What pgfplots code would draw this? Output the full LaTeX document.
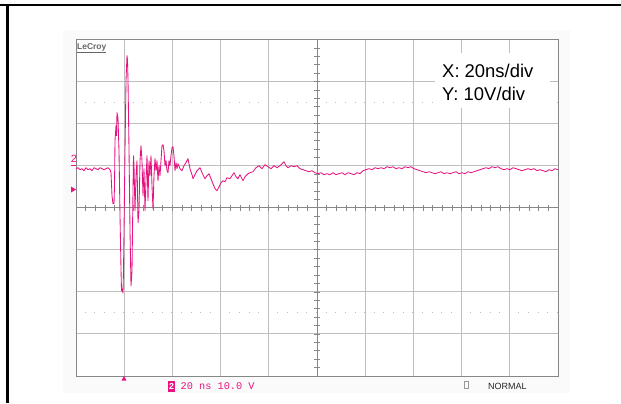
\documentclass[border=0pt]{standalone}
\usepackage{pgfplots}
\pgfplotsset{compat=1.18}
\usepackage{fontspec}
\setmainfont{Liberation Sans}
\setmonofont{Liberation Mono}
\definecolor{trace}{RGB}{230,20,128}
\definecolor{gridc}{RGB}{190,190,190}
\definecolor{boxc}{RGB}{135,135,135}
\begin{document}
\begin{tikzpicture}[x=1bp,y=1bp]
\path[use as bounding box] (0,0) rectangle (621,403);
\fill[black!2] (63,10) rectangle (570,373);
\draw[line width=2.2bp] (0,398) -- (621,398);
\draw[line width=2.2bp] (7.5,0) -- (7.5,398);
\begin{axis}[at={(76bp,27bp)}, anchor=south west, scale only axis,
  width=482bp, height=336.5bp,
  xmin=0, xmax=200, ymin=-40, ymax=40,
  xtick={0,20,...,200}, ytick={-40,-30,...,40},
  xticklabels={}, yticklabels={}, major tick length=0pt,
  grid=major, grid style={gridc, line width=1bp},
  axis line style={boxc, line width=0.9bp},
  axis background/.style={fill=white}]
\draw[gridc, line width=0.9bp, dash pattern=on 1bp off 8.64bp, dash phase=-8.64bp] (axis cs:0,25) -- (axis cs:200,25);
\draw[gridc, line width=0.9bp, dash pattern=on 1bp off 8.64bp, dash phase=-8.64bp] (axis cs:0,-25) -- (axis cs:200,-25);
\draw[boxc, line width=0.8bp] (axis cs:0,0) -- (axis cs:200,0);
\draw[boxc, line width=0.8bp] (axis cs:100,-40) -- (axis cs:100,40);
\pgfplotsinvokeforeach{4,8,...,196}{\draw[boxc, line width=0.7bp] (axis cs:#1,-0.7) -- (axis cs:#1,0.7);}
\pgfplotsinvokeforeach{-38,-36,...,38}{\draw[boxc, line width=0.7bp] (axis cs:98.8,#1) -- (axis cs:101.2,#1);}
\addplot[trace, line width=0.85bp, line join=round] coordinates {
(0,9.29) (0.83,9.52) (1.66,9.05) (2.49,9.29) (3.32,8.81) (4.15,9.52) (4.98,9.05) (5.81,9.29) (6.64,8.81) (7.47,9.52)
(8.30,9.29) (9.13,9.05) (9.96,9.52) (10.79,9.29) (11.62,9.05) (12.45,9.29) (13.28,9.52) (14.11,9.05) (14.52,8.33) (14.94,2.86)
(15.35,0.95) (15.77,0.95) (15.98,5.24) (16.18,15.95) (16.60,19.52) (16.81,17.14) (17.01,22.62) (17.43,21.19) (17.84,13.57) (18.26,-1.90)
(18.67,-14.52) (18.88,-19.76) (19.09,-19.29) (19.50,-20.24) (19.71,-15.0) (19.92,-5.48) (20.33,13.57) (20.75,30.24) (21.16,36.19) (21.37,35.0)
(21.58,30.24) (22.0,13.57) (22.41,-5.48) (22.82,-18.57) (23.24,-15.0) (23.65,4.05) (23.86,12.38) (24.07,10.0) (24.48,-0.71) (24.90,7.62)
(25.31,11.19) (25.73,-3.57) (26.14,-0.71) (26.56,11.19) (26.97,14.76) (27.38,11.19) (27.80,2.86) (28.21,9.29) (28.63,-0.71) (29.04,6.43)
(29.46,12.38) (29.87,1.67) (30.29,11.19) (30.70,7.62) (31.12,12.38) (31.53,5.24) (31.95,-0.24) (32.36,7.62) (32.78,11.67) (33.19,8.81)
(33.61,11.19) (34.02,6.43) (34.44,10.0) (34.85,7.62) (35.27,11.19) (35.68,14.76) (36.10,15.0) (36.51,13.57) (36.93,10.0) (37.34,11.19)
(37.76,8.81) (38.17,8.33) (38.59,11.19) (39.0,10.0) (39.42,12.38) (39.83,14.29) (40.25,14.52) (40.66,12.38) (41.08,8.81) (41.49,10.71)
(41.91,9.29) (42.32,10.48) (43.15,9.29) (43.98,8.81) (44.81,10.0) (45.64,10.71) (46.47,11.67) (47.30,9.29) (48.13,7.86) (48.55,6.90)
(49.37,7.86) (50.20,8.81) (51.45,9.52) (52.28,8.33) (53.52,6.90) (54.35,7.62) (55.18,8.10) (56.01,6.90) (56.84,5.71) (57.68,4.52)
(58.51,4.05) (59.34,4.98) (60.17,5.95) (61.0,6.43) (61.82,6.19) (62.66,7.14) (63.89,6.90) (64.72,7.62) (65.55,8.33) (66.38,7.38)
(67.21,6.90) (68.04,7.86) (69.29,6.43) (70.12,7.38) (71.36,8.10) (72.19,8.33) (73.44,8.57) (74.68,9.52) (75.93,10.0) (77.17,9.29)
(78.42,10.24) (79.66,9.76) (80.91,9.29) (82.15,10.0) (83.40,9.52) (84.64,10.0) (85.47,10.48) (86.30,10.95) (87.13,10.0) (87.96,9.52)
(89.21,10.0) (90.45,9.76) (91.70,10.0) (92.94,9.29) (94.19,9.05) (95.43,8.81) (96.68,8.57) (97.92,8.81) (99.17,8.33) (100.41,8.10)
(101.66,8.33) (102.90,7.86) (104.15,8.10) (105.39,7.86) (106.64,8.33) (107.88,7.86) (109.13,8.10) (110.37,8.33) (111.62,7.86) (112.86,8.33)
(114.11,8.10) (115.35,7.86) (116.60,8.33) (117.84,8.10) (119.09,8.81) (120.33,9.05) (121.58,9.29) (122.82,9.05) (124.07,9.52) (125.31,9.29)
(126.56,9.52) (127.80,9.29) (129.05,9.76) (130.28,9.52) (131.54,9.76) (132.77,9.29) (134.01,9.52) (135.27,9.29) (136.50,9.76) (137.75,9.52)
(138.99,9.76) (140.24,9.29) (141.48,9.05) (142.73,8.81) (143.97,8.57) (145.22,8.33) (146.46,8.57) (147.71,8.33) (148.95,8.10) (150.20,8.33)
(151.44,8.57) (152.69,8.10) (153.93,8.33) (155.18,8.10) (156.42,8.33) (157.67,8.57) (158.91,8.10) (160.16,8.33) (161.40,8.10) (162.65,8.57)
(163.89,8.33) (165.14,8.57) (166.38,8.81) (167.63,9.05) (168.87,9.29) (170.12,9.52) (171.36,9.29) (172.61,9.76) (173.85,9.52) (175.10,9.76)
(176.34,9.29) (177.59,9.05) (178.83,9.29) (180.08,9.05) (181.32,9.52) (182.57,9.29) (183.81,9.05) (185.06,8.81) (186.30,9.05) (187.55,9.29)
(188.79,9.05) (190.04,9.29) (191.28,8.81) (192.53,9.05) (193.77,8.81) (195.02,8.57) (196.26,9.05) (197.51,8.81) (198.75,9.29) (200.0,9.05)
};
\end{axis}
% LeCroy logo
\node[anchor=west, inner sep=0pt, text=black!60, font=\fontsize{8.5}{9}\selectfont\bfseries] (lc) at (77,356) {LeCroy};
\draw[black!60, line width=0.8bp] (lc.south west) ++(0,-1.2) -- ++(29,0);
% scale box
\fill[white] (435,295) rectangle (550,350);
\node[anchor=base west, inner sep=0pt, font=\fontsize{18.5}{20}\selectfont] at (442,325.7) {X: 20ns/div};
\node[anchor=base west, inner sep=0pt, font=\fontsize{18.5}{20}\selectfont] at (442,303) {Y: 10V/div};
% channel markers
\node[anchor=base west, inner sep=0pt, text=trace, font=\fontsize{11}{11}\selectfont\ttfamily] at (70.5,240.3) {2};
\draw[trace, line width=0.9bp] (70.5,238) -- (76,238);
\fill[trace] (71,216.5) -- (76,213.5) -- (71,210.5) -- cycle;
\fill[trace] (121.5,22.5) -- (126.5,22.5) -- (124,27) -- cycle;
% bottom status line
\fill[trace] (168,11.3) rectangle (175,22.3);
\node[inner sep=0pt, text=white, font=\fontsize{9}{9}\selectfont\ttfamily\bfseries] at (171.5,16.8) {2};
\node[anchor=west, inner sep=0pt, text=trace, font=\fontsize{10.3}{11}\selectfont\ttfamily] at (180.5,17) {20 ns 10.0 V};
\draw[black!40, line width=0.6bp] (464,14.7) rectangle (468.3,21.3);
\node[anchor=west, inner sep=0pt, text=black!85, font=\fontsize{9}{10}\selectfont] at (488,17) {NORMAL};
\end{tikzpicture}
\end{document}
